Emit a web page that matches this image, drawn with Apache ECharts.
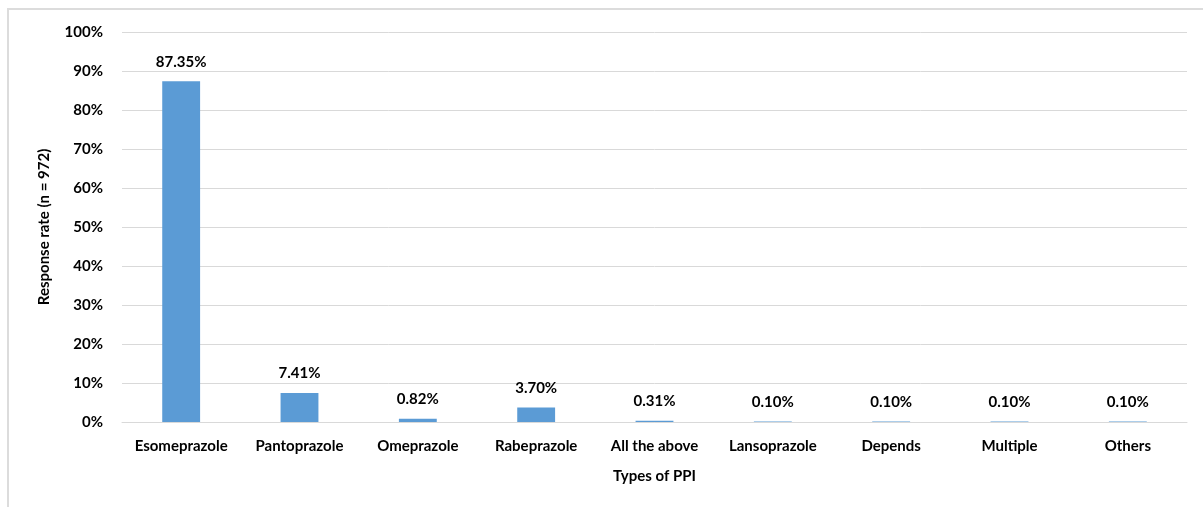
<!DOCTYPE html>
<html>
<head>
<meta charset="utf-8">
<script src="https://cdn.jsdelivr.net/npm/echarts@6/dist/echarts.min.js"></script>
<style>
  html, body { margin: 0; padding: 0; background: #fff; }
  #frame { position: absolute; left: 7px; top: 8px; width: 1196px; height: 499px;
           border-top: 2px solid #dcdcdc; border-left: 2px solid #dcdcdc; box-sizing: border-box; }
  #chart { position: absolute; left: 0; top: 0; width: 1203px; height: 507px; }
</style>
</head>
<body>
<div id="frame"></div>
<div id="chart"></div>
<script>
var categories = ['Esomeprazole', 'Pantoprazole', 'Omeprazole', 'Rabeprazole', 'All the above',
  'Lansoprazole', 'Depends', 'Multiple', 'Others'];
var rates = [87.35, 7.41, 0.82, 3.70, 0.31, 0.10, 0.10, 0.10, 0.10];

var chart = echarts.init(document.getElementById('chart'));
var font = 'Lato, "Open Sans", sans-serif';

var option = {
  animation: false,
  grid: { left: 122, right: 16, top: 32, bottom: 85, containLabel: false },
  xAxis: {
    type: 'category',
    data: categories,
    axisLine: { lineStyle: { color: '#d9d9d9', width: 1 } },
    axisTick: { show: false },
    axisLabel: { color: '#000', fontFamily: font, fontWeight: 'bold', fontSize: 15, margin: 17, interval: 0 },
    name: 'Types of PPI',
    nameLocation: 'middle',
    nameGap: 47,
    nameTextStyle: { color: '#000', fontFamily: font, fontWeight: 'bold', fontSize: 15 }
  },
  yAxis: {
    type: 'value',
    min: 0,
    max: 100,
    interval: 10,
    axisLine: { show: false },
    axisTick: { show: false },
    splitLine: { lineStyle: { color: '#d9d9d9', width: 1 } },
    axisLabel: { color: '#000', fontFamily: font, fontWeight: 'bold', fontSize: 15, margin: 19,
      formatter: function (v) { return v + '%'; } },
    name: 'Response rate (n = 972)',
    nameLocation: 'middle',
    nameGap: 70,
    nameTextStyle: { color: '#000', fontFamily: font, fontWeight: 'bold', fontSize: 15 }
  },
  series: [{
    type: 'bar',
    data: rates,
    barWidth: '32%',
    itemStyle: { color: '#5b9bd5' },
    label: {
      show: true,
      position: 'top',
      distance: 12,
      color: '#000',
      fontFamily: font,
      fontWeight: 'bold',
      fontSize: 15,
      formatter: function (p) { return p.value.toFixed(2) + '%'; }
    }
  }]
};

chart.setOption(option);
</script>
</body>
</html>
